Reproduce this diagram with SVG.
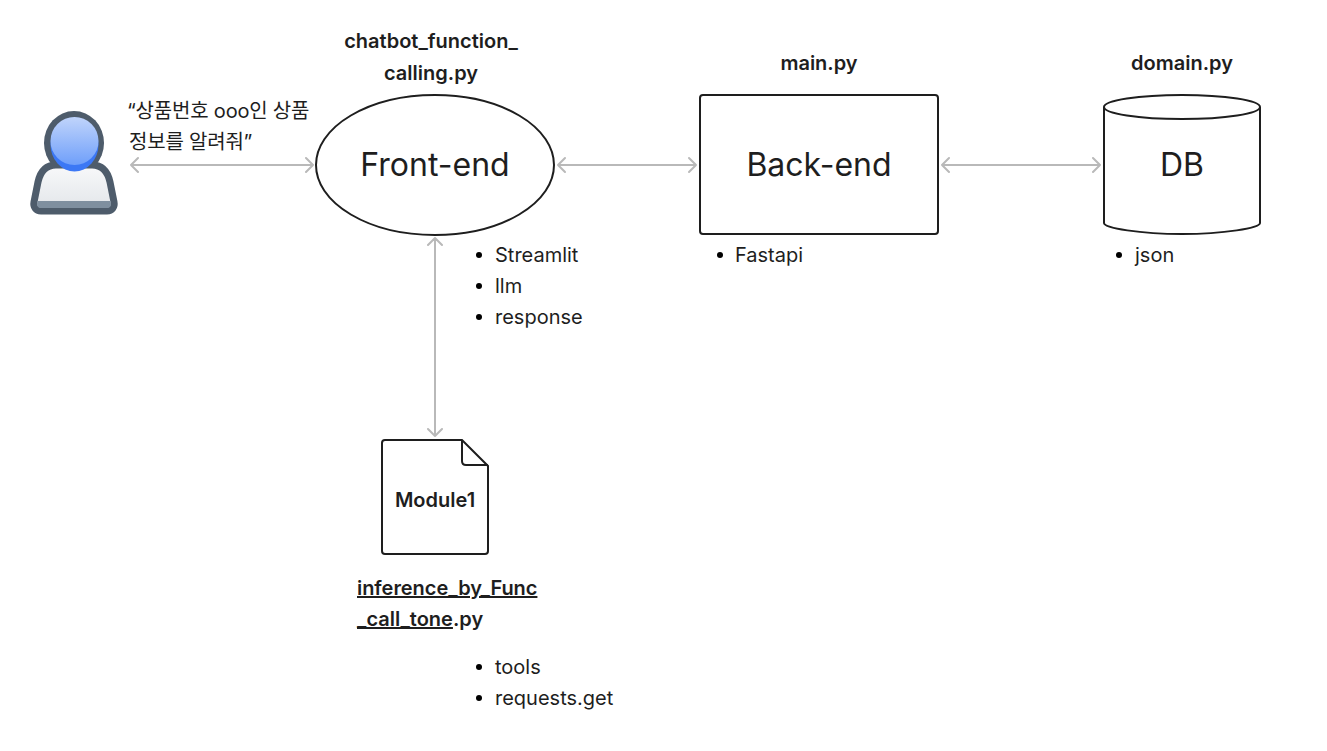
<svg xmlns="http://www.w3.org/2000/svg" width="1327" height="751" viewBox="0 0 1327 751">
<style>
text{font-family:Inter,"Noto Sans CJK KR","Noto Sans",sans-serif;fill:#1e1e1e}
.big{font-size:32px;text-anchor:middle}
.b{font-size:20px;font-weight:600;text-anchor:middle}
.t{font-size:20px}
.sh{fill:#fff;stroke:#1e1e1e;stroke-width:2}
.c{fill:none;stroke:#b9b9b9;stroke-width:2;stroke-linecap:round;stroke-linejoin:round}
</style>
<defs>
<linearGradient id="face" x1="0" y1="0" x2="0" y2="1"><stop offset="0" stop-color="#c0d4fb"/><stop offset="1" stop-color="#6f9ffa"/></linearGradient>
<linearGradient id="body" x1="0" y1="0" x2="0" y2="1"><stop offset="0" stop-color="#f8f9fa"/><stop offset="1" stop-color="#e2e5e9"/></linearGradient>
</defs>
<rect width="1327" height="751" fill="#fff"/>
<g id="connectors">
<path class="c" d="M131 165H313M138 158l-7 7 7 7M306 158l7 7-7 7"/>
<path class="c" d="M558 165H696M565 158l-7 7 7 7M689 158l7 7-7 7"/>
<path class="c" d="M942 165H1100M949 158l-7 7 7 7M1093 158l7 7-7 7"/>
<path class="c" d="M435 238V436M428 245l7-7 7 7M428 429l7 7 7-7"/>
</g>
<g id="user">
<ellipse cx="74" cy="143" rx="30" ry="32" fill="#4e5c6b"/>
<path d="M56 165H92C103 165 108 173 110 182L114 202C115 207 112 211 107 211H41C36 211 33 207 34 202L38 182C40 173 45 165 56 165Z" fill="url(#body)" stroke="#4e5c6b" stroke-width="7" stroke-linejoin="round"/>
<path d="M37.500 201H110.500L111 204C111 207 109 208 107 208H41C39 208 37 207 37 204Z" fill="#7f8f9f"/>
<ellipse cx="74.500" cy="144.500" rx="24" ry="27" fill="#3c78f5"/>
<ellipse cx="74.500" cy="141" rx="24" ry="24" fill="url(#face)"/>
</g>
<text class="t" x="127" y="118" letter-spacing="-0.2">“상품번호 ooo인 상품</text>
<text class="t" x="129" y="149" letter-spacing="-0.2">정보를 알려줘”</text>
<g id="frontend">
<ellipse class="sh" cx="435" cy="165" rx="119" ry="70"/>
<text class="big" x="435" y="176">Front-end</text>
<text class="b" x="431" y="48">chatbot_function_</text>
<text class="b" x="431" y="79.500">calling.py</text>
</g>
<g id="backend">
<rect class="sh" x="700" y="95" width="238" height="139" rx="3"/>
<text class="big" x="819" y="176">Back-end</text>
<text class="b" x="819" y="70">main.py</text>
</g>
<g id="db">
<path class="sh" d="M1104 107V223C1104 228 1140 234 1182 234S1260 228 1260 223V107"/>
<ellipse class="sh" cx="1182" cy="107" rx="78" ry="12"/>
<text class="big" x="1182" y="176">DB</text>
<text class="b" x="1182" y="70">domain.py</text>
</g>
<g id="module1">
<path class="sh" d="M385 440H462L488 466V551Q488 554 485 554H385Q382 554 382 551V443Q382 440 385 440Z"/>
<path class="sh" style="fill:none" d="M462 440V461Q462 465 466 465H488"/>
<text x="435" y="507" text-anchor="middle" style="font-size:20px;font-weight:600">Module1</text>
<text class="t" x="357" y="595" style="font-weight:600;text-decoration:underline" letter-spacing="-0.05">inference_by_Func</text>
<text x="357" y="626" style="font-size:20px;font-weight:600"><tspan text-decoration="underline">_call_tone</tspan>.py</text>
</g>
<g id="lists">
<circle cx="479" cy="255" r="3"/><text class="t" x="495" y="262">Streamlit</text>
<circle cx="479" cy="286" r="3"/><text class="t" x="495" y="292.500">llm</text>
<circle cx="479" cy="317" r="3"/><text class="t" x="495" y="323.500">response</text>
<circle cx="720" cy="255" r="3"/><text class="t" x="735" y="262">Fastapi</text>
<circle cx="1119" cy="255" r="3"/><text class="t" x="1135" y="262">json</text>
<circle cx="479" cy="667" r="3"/><text class="t" x="495" y="673.500">tools</text>
<circle cx="479" cy="698" r="3"/><text class="t" x="495" y="704.500">requests.get</text>
</g>
</svg>
